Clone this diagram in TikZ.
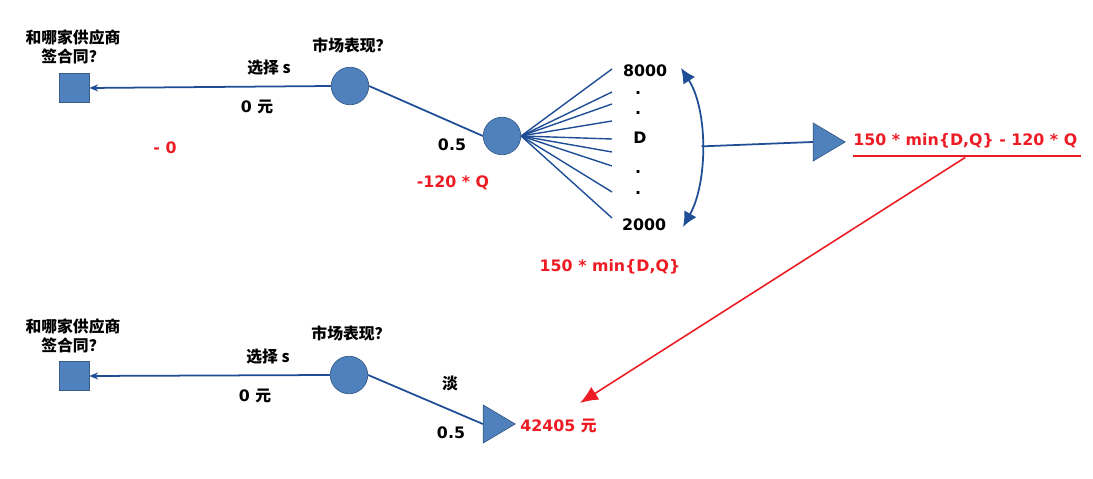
\documentclass[tikz,border=0pt]{standalone}
\usepackage{fontspec}
\setmainfont{DejaVu Sans}
\newfontfamily\cjk{Noto Sans CJK SC}
\usetikzlibrary{shapes.geometric, arrows.meta, positioning}
\definecolor{nodeblue}{RGB}{79,129,189}
\definecolor{edgeblue}{RGB}{56,93,138}
\definecolor{lineblue}{RGB}{31,78,150}
\definecolor{valred}{RGB}{237,28,36}
\tikzstyle{decision} = [rectangle, minimum width=0.6cm, minimum height=0.58cm, draw=edgeblue, fill=nodeblue, inner sep=0pt]
\tikzstyle{chance} = [circle, minimum size=0.75cm, draw=edgeblue, fill=nodeblue, inner sep=0pt]
\tikzstyle{payoff} = [isosceles triangle, isosceles triangle stretches, minimum width=0.76cm, minimum height=0.64cm, draw=edgeblue, fill=nodeblue, inner sep=0pt]
\tikzstyle{txt} = [font=\bfseries\fontsize{9}{11}\selectfont, inner sep=0pt]
\tikzstyle{cntxt} = [font=\cjk\bfseries\fontsize{9}{11}\selectfont, inner sep=0pt, align=center]
\tikzstyle{redtxt} = [txt, text=valred]
\tikzstyle{branch} = [draw=lineblue, line width=1pt]
\tikzstyle{arrow} = [branch, -{Stealth[length=5pt,width=4pt]}]
\tikzstyle{redarrow} = [draw=valred, line width=0.9pt, -{Latex[length=0.36cm,width=0.3cm]}]

\begin{document}
\begin{tikzpicture}[x=0.02cm, y=-0.02cm]
\useasboundingbox (0,0) rectangle (1093,479);

% upper tree
\node (who1) [cntxt] at (73,47) {和哪家供应商\\签合同？};
\node (sq1) [decision] at (74,88) {};
\node (c1) [chance] at (350,86) {};
\node (mkt1) [cntxt] at (352,45) {市场表现？};
\node (pick1) [cntxt] at (269,68) {选择 s};
\node (cost1) [txt] at (257,107) {0 {\cjk 元}};
\node (neg0) [redtxt] at (165,148) {- 0};
\node (c2) [chance] at (502,136) {};
\node (p1) [txt] at (452,145) {0.5};
\node (buy) [redtxt] at (453,183) {-120 * Q};
\node (hi) [txt] at (645,71) {8000};
\node (d1) [txt] at (638,93) {.};
\node (d2) [txt] at (638,113) {.};
\node (dd) [txt] at (640,138) {D};
\node (d3) [txt] at (638,172) {.};
\node (d4) [txt] at (638,193) {.};
\node (lo) [txt] at (644,225) {2000};
\node (sell) [redtxt] at (610,267) {150 * min\{D,Q\}};
\node (t1) [payoff] at (824,142) {};
\node (prof) [redtxt, anchor=west] at (853,141) {150 * min\{D,Q\} - 120 * Q};

\draw [arrow] (c1.west) -- (sq1.east);
\draw [branch] (c1.east) -- (c2.west);
\foreach \y [count=\i] in {69,92,104,121,139,152,166,192,218} {
  \coordinate (f\i) at (612,\y);
  \draw [branch, line width=0.8pt] (c2.east) -- (f\i);
}
\coordinate (atop) at (681,68);
\coordinate (abot) at (683,227);
\draw [branch, {Latex[length=0.3cm,width=0.28cm]}-{Latex[length=0.3cm,width=0.28cm]}] (atop) .. controls (708,110) and (708,182) .. (abot) coordinate[pos=0.5] (amid);
\draw [branch] (amid) -- (t1.west);
\draw [valred, line width=1pt] ([yshift=-4pt]prof.south west) -- ([xshift=2pt,yshift=-4pt]prof.south east);

% lower tree
\node (who2) [cntxt] at (73,336) {和哪家供应商\\签合同？};
\node (sq2) [decision] at (74,376) {};
\node (c3) [chance] at (349,375) {};
\node (mkt2) [cntxt] at (351,333) {市场表现？};
\node (pick2) [cntxt] at (268,357) {选择 s};
\node (cost2) [txt] at (255,396) {0 {\cjk 元}};
\node (low) [cntxt] at (450,383) {淡};
\node (p2) [txt] at (451,433) {0.5};
\node (t2) [payoff] at (494,424) {};
\node (val) [redtxt, anchor=west] at (520,426) {42405 {\cjk 元}};

\draw [arrow] (c3.west) -- (sq2.east);
\draw [branch] (c3.east) -- (t2.west);
\coordinate (hit) at (580,403);
\draw [redarrow] ([yshift=-5pt]prof.south) -- (hit);
\end{tikzpicture}
\end{document}
